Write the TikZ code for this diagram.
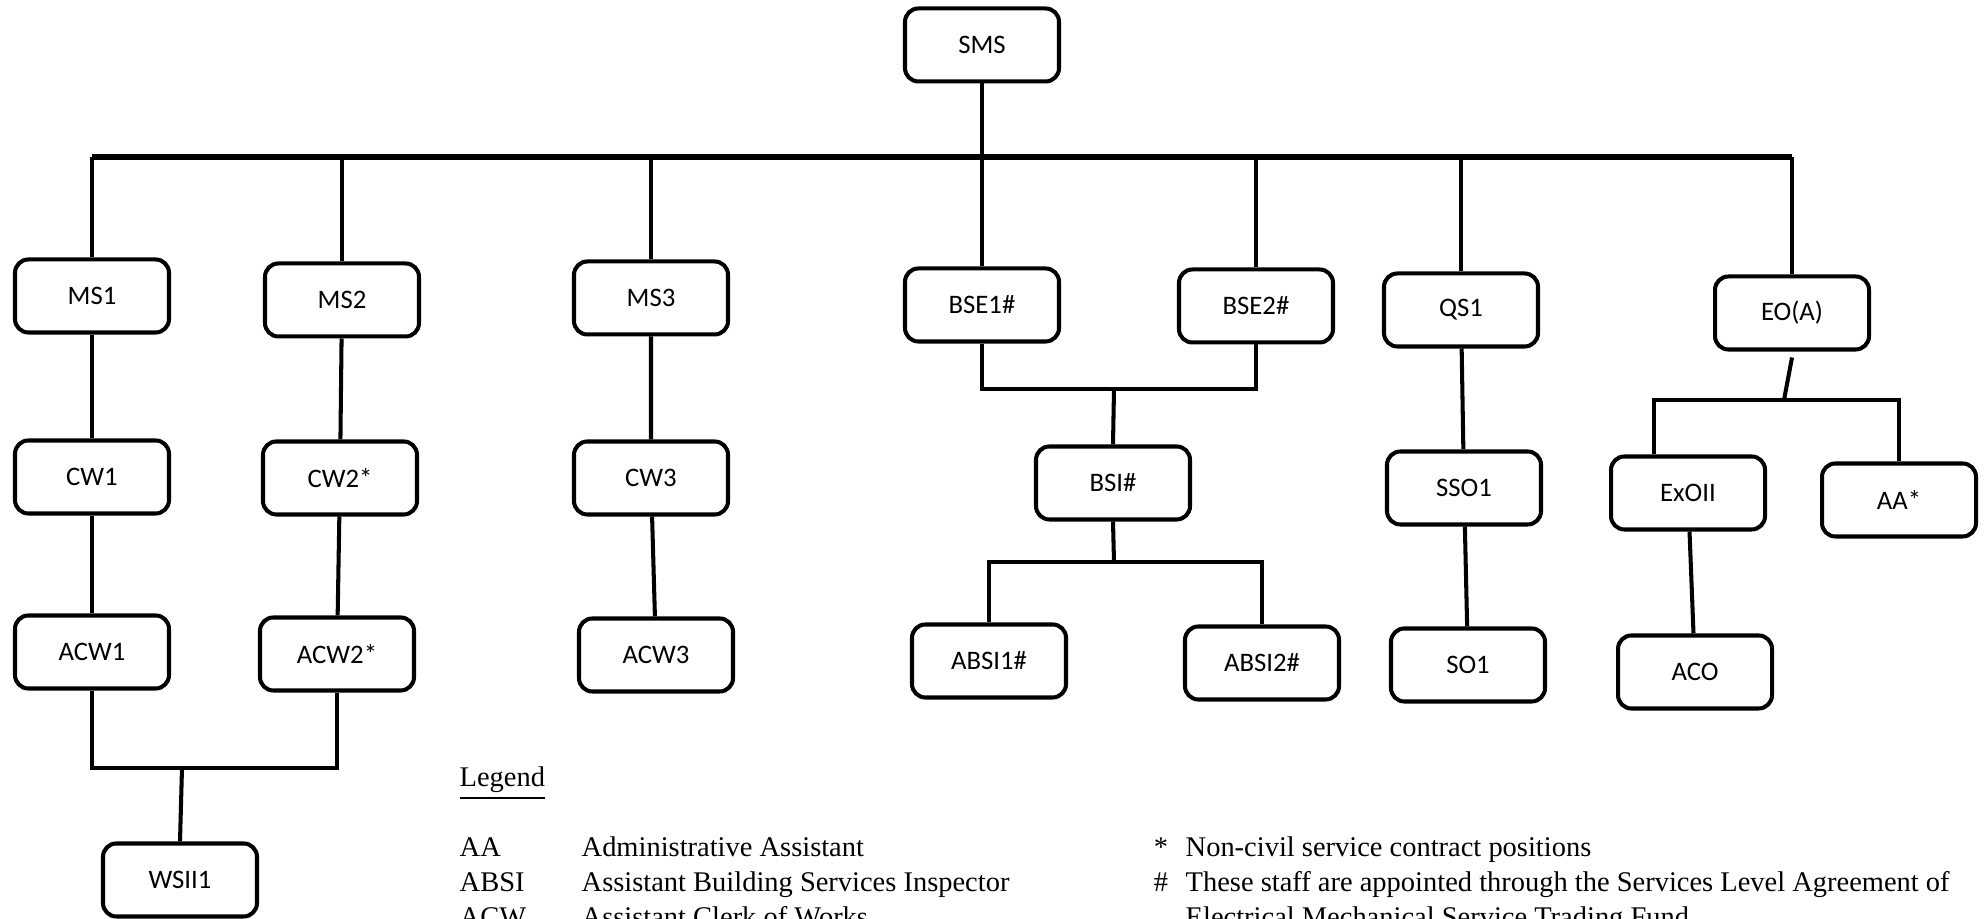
\documentclass[tikz,border=0pt]{standalone}
\usepackage{fontspec}
\setmainfont{Liberation Serif}
\newfontfamily\boxfont{Carlito}

\begin{document}
\begin{tikzpicture}[
  post/.style={draw,line width=1.15pt,rounded corners=3.8pt,minimum width=1.54cm,
    minimum height=0.73cm,inner sep=0pt,font=\boxfont\fontsize{7.6}{9}\selectfont},
  link/.style={line width=1.15pt},
  bus/.style={line width=1.6pt},
  key/.style={anchor=base west,inner sep=0pt,font=\fontsize{8.1}{10}\selectfont}
]
  \useasboundingbox (0,0) rectangle (19.86,9.19);
  \clip (0,0) rectangle (19.86,9.19);
  \def\post#1#2#3{\node[post] (#1) at (#2) {#3};}
  % top
  \post{sms}{9.82,8.74}{SMS}
  % first row
  \post{ms1}{0.92,6.23}{MS1}
  \post{ms2}{3.42,6.19}{MS2}
  \post{ms3}{6.51,6.21}{MS3}
  \post{bse1}{9.82,6.14}{BSE1\#}
  \post{bse2}{12.56,6.13}{BSE2\#}
  \post{qs1}{14.61,6.09}{QS1}
  \post{eoa}{17.92,6.06}{EO(A)}
  % second row
  \post{cw1}{0.92,4.42}{CW1}
  \post{cw2}{3.40,4.41}{CW2*}
  \post{cw3}{6.51,4.41}{CW3}
  \post{bsi}{11.13,4.36}{BSI\#}
  \post{sso1}{14.64,4.31}{SSO1}
  \post{exo2}{16.88,4.26}{ExOII}
  \post{aa}{18.99,4.19}{AA*}
  % third row
  \post{acw1}{0.92,2.67}{ACW1}
  \post{acw2}{3.37,2.65}{ACW2*}
  \post{acw3}{6.56,2.64}{ACW3}
  \post{absi1}{9.89,2.58}{ABSI1\#}
  \post{absi2}{12.62,2.56}{ABSI2\#}
  \post{so1}{14.68,2.54}{SO1}
  \post{aco}{16.95,2.47}{ACO}
  \post{wsii1}{1.80,0.39}{WSII1}

  % main bus
  \coordinate (bus) at (9.82,7.62);
  \draw[bus] (ms1.north |- bus) -- (eoa.north |- bus);
  \draw[link] (sms.south) -- (bus);
  \foreach \n in {ms1,ms2,ms3,bse1,bse2,qs1,eoa}
    \draw[link] (\n.north |- bus) -- (\n.north);

  % straight chains
  \draw[link] (ms1) -- (cw1) -- (acw1);
  \draw[link] (ms2) -- (cw2) -- (acw2);
  \draw[link] (ms3) -- (cw3) -- (acw3);
  \draw[link] (qs1) -- (sso1) -- (so1);
  \draw[link] (exo2) -- (aco);

  % joins
  \coordinate (acwj) at (1.82,1.51);
  \draw[link] (acw1.south) |- (acwj) -| (acw2.south);
  \draw[link] (acwj) -- (wsii1.north);
  \coordinate (bsej) at (11.14,5.30);
  \draw[link] (bse1.south) |- (bsej) -| (bse2.south);
  \draw[link] (bsej) -- (bsi.north);
  \coordinate (bsij) at (11.14,3.57);
  \draw[link] (bsi.south) -- (bsij);
  \draw[link] (absi1.north) |- (bsij) -| (absi2.north);
  \coordinate (eoj) at (17.84,5.19);
  \draw[link] ([yshift=-0.6mm]eoa.south) -- (eoj);
  \draw[link] ([xshift=-3.4mm]exo2.north) |- (eoj) -| (aa.north);

  % legend
  \node[key] (lgd) at (4.59,1.32) {\underline{Legend}};
  \node[key] (kaa) at (4.59,0.62) {AA};
  \node[key] (daa) at (5.81,0.62) {Administrative Assistant};
  \node[key] (kabsi) at (4.59,0.27) {ABSI};
  \node[key] (dabsi) at (5.81,0.27) {Assistant Building Services Inspector};
  \node[key] (kacw) at (4.59,-0.08) {ACW};
  \node[key] (dacw) at (5.81,-0.08) {Assistant Clerk of Works};
  \node[key,anchor=base] (star) at (11.61,0.62) {*};
  \node[key] (nstar) at (11.85,0.62) {Non-civil service contract positions};
  \node[key,anchor=base] (hash) at (11.61,0.27) {\#};
  \node[key] (nhash) at (11.85,0.27) {These staff are appointed through the Services Level Agreement of};
  \node[key] (nhash2) at (11.85,-0.08) {Electrical Mechanical Service Trading Fund};
\end{tikzpicture}
\end{document}
